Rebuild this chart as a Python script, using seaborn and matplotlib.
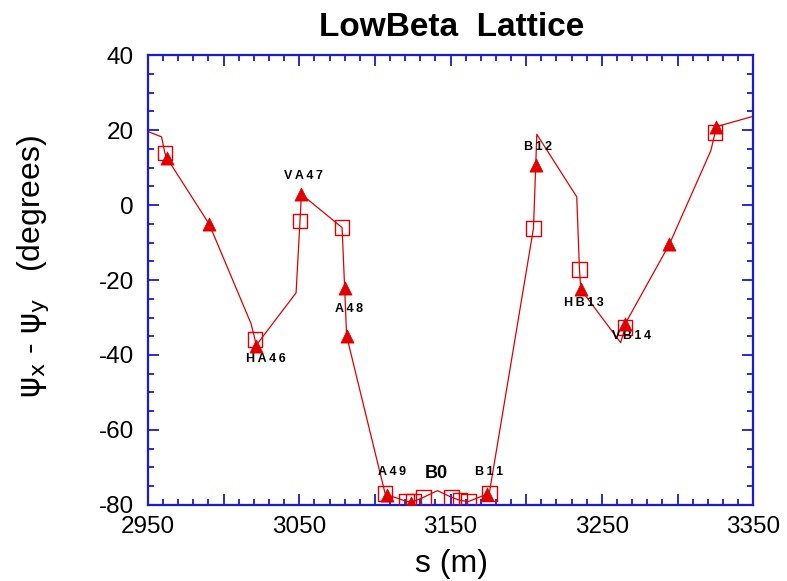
import matplotlib
matplotlib.use("Agg")
import matplotlib.pyplot as plt
from matplotlib.ticker import MultipleLocator, FuncFormatter
import seaborn as sns
import pandas as pd

# thin line through the lattice
line_s = [2950.2, 2959, 2961.2, 2962.3, 2990.5, 3018.1, 3020.7, 3021.4, 3047.9, 3050.5, 3051.4,
          3078.3, 3080, 3081.3, 3106.7, 3108.2, 3121, 3125.4, 3132, 3141.3, 3150.8, 3156.3,
          3161.8, 3174.3, 3175.6, 3204.8, 3206.3, 3207, 3233.4, 3235.2, 3236.1, 3262.4,
          3265.4, 3265.4, 3294.7, 3322, 3324.9, 3325.5, 3350]
line_y = [19.6, 18.2, 13.9, 12.7, -5.1, -31.6, -35.8, -37.5, -23.4, -4.2, 2.9,
          -6.0, -22.0, -34.9, -76.9, -77.3, -79.1, -79.1, -78.0, -76.2, -78.0, -78.8,
          -79.1, -77.1, -76.9, -6.2, 10.7, 18.9, 2.2, -17.2, -22.5, -36.7,
          -32.7, -31.7, -10.4, 14.5, 19.4, 20.9, 23.7]

# open squares
sq_s = [2961.2, 3020.7, 3050.5, 3078.3, 3106.7, 3121, 3125.4, 3132, 3150.8, 3156.3, 3161.8,
        3175.6, 3204.8, 3235.2, 3265.4, 3324.9]
sq_y = [13.9, -35.8, -4.2, -6.0, -76.9, -79.1, -79.1, -78.0, -78.0, -78.8, -79.1,
        -76.9, -6.2, -17.2, -32.7, 19.4]

# filled triangles
tri_s = [2962.3, 2990.5, 3021.4, 3051.4, 3080, 3081.3, 3108.2, 3123.6, 3174.3, 3206.3,
         3236.1, 3265.4, 3294.7, 3325.5]
tri_y = [12.7, -5.1, -37.5, 2.9, -22.0, -34.9, -77.3, -79.5, -77.1, 10.7,
         -22.5, -31.7, -10.4, 20.9]

# element labels
lab_txt = ["VA47", "HA46", "A48", "A49", "B11", "B12", "HB13", "VB14"]
lab_s = [3053, 3028, 3082.7, 3111, 3175.7, 3208, 3237.8, 3269.8]
lab_y = [7.7, -41.1, -27.7, -71.1, -71.1, 15.5, -26.2, -34.9]

red = "#e00000"
blue = "#1a1ad8"

sns.set_style("ticks")
plt.rcParams["font.family"] = ["Liberation Sans", "DejaVu Sans"]
plt.rcParams["mathtext.fontset"] = "dejavusans"
plt.rcParams["axes.unicode_minus"] = False
plt.rcParams["text.color"] = "black"
plt.rcParams["axes.labelcolor"] = "black"

fig = plt.figure(figsize=(7.87, 5.81), dpi=100)
ax = fig.add_axes([0.188, 0.131, 0.769, 0.774])

ldf = pd.DataFrame({"s": line_s, "y": line_y})
sns.lineplot(data=ldf, x="s", y="y", sort=False, estimator=None, color=red, lw=0.9, ax=ax)
sns.scatterplot(x=sq_s, y=sq_y, marker="s", s=110, facecolor="none", edgecolor=red,
                linewidth=1.0, ax=ax, zorder=3)
sns.scatterplot(x=tri_s, y=tri_y, marker="^", s=90, color=red, edgecolor=red,
                linewidth=0.5, ax=ax, zorder=4)

for t, xs, ys in zip(lab_txt, lab_s, lab_y):
    ax.text(xs, ys, "\u2009".join(t), fontsize=9, fontweight="bold", ha="center", va="center")
ax.text(3140.4, -71.5, "B0", fontsize=13, fontweight="bold", ha="center", va="center")

ax.set_xlim(2950, 3350)
ax.set_ylim(-80, 40)
ax.xaxis.set_major_locator(MultipleLocator(50))
ax.xaxis.set_minor_locator(MultipleLocator(10))
ax.xaxis.set_major_formatter(FuncFormatter(
    lambda v, p: "%d" % v if round(v - 2950) % 100 == 0 else ""))
ax.yaxis.set_major_locator(MultipleLocator(20))
ax.yaxis.set_minor_locator(MultipleLocator(5))

for sp in ax.spines.values():
    sp.set_visible(True)
    sp.set_color(blue)
    sp.set_linewidth(1.6)
ax.tick_params(which="both", direction="in", top=True, right=True, color=blue, width=1.3)
ax.tick_params(which="major", length=8, labelsize=17.5, labelcolor="black")
ax.tick_params(axis="y", which="major", pad=10)
ax.tick_params(axis="x", which="major", pad=8)
ax.tick_params(which="minor", length=4)

ax.set_xlabel("s (m)", fontsize=23)
ax.set_ylabel(r"$\mathrm{\psi}_\mathrm{x}$ - $\mathrm{\psi}_\mathrm{y}$   (degrees)", fontsize=23)
ax.xaxis.set_label_coords(0.502, -0.131)
ax.yaxis.set_label_coords(-0.19, 0.53)
ax.xaxis.label.set_va("center")
ax.yaxis.label.set_va("center")
ax.set_title("LowBeta  Lattice", fontsize=24, fontweight="bold", pad=14)
ax.title.set_position((0.502, 1.0))

fig.savefig("out.png", dpi=100)
